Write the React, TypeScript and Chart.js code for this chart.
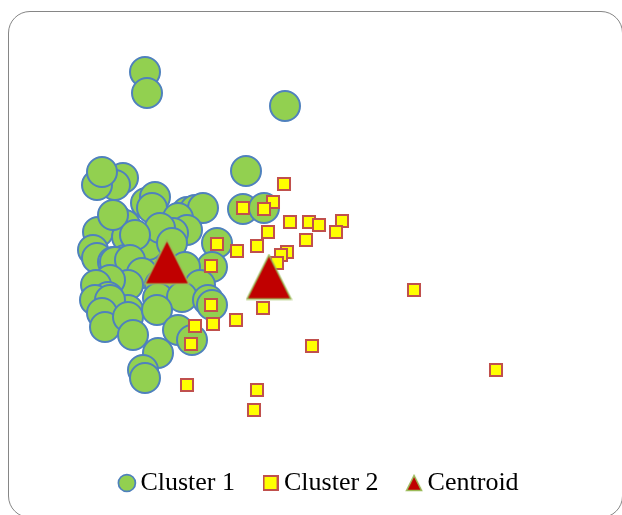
import { useEffect, useRef } from 'react';
import { Chart, registerables } from 'chart.js';

Chart.register(...registerables);

const seriesNames = ['Cluster 1', 'Cluster 2', 'Centroid'];

const cluster1X = [
  145, 147, 285, 246, 243, 264,
  123, 115, 97, 102,
  146, 155, 152,
  115, 125, 98, 127, 113,
  187, 195, 203, 178, 187, 173,
  217, 212,
  170, 93, 97, 125, 113, 143, 148, 160, 135,
  115, 130, 142, 172, 185, 160, 128, 200, 110, 96,
  108, 95, 128, 158, 182, 208,
  110, 102, 105, 128, 133, 157, 178, 192, 212, 158, 143, 145,
];
const cluster1Y = [
  72, 93, 106, 171, 209, 208,
  178, 185, 185, 172,
  203, 197, 208,
  218, 225, 232, 237, 215,
  212, 210, 208, 218, 230, 233,
  243, 267,
  250, 250, 258, 260, 262, 255, 245, 228, 235,
  262, 260, 273, 243, 267, 285, 285, 285, 280, 285,
  297, 300, 310, 298, 297, 300,
  300, 313, 327, 317, 335, 310, 330, 340, 305, 353, 370, 378,
];

const cluster2X = [
  284, 273, 264, 243, 290, 309, 319, 342, 336, 268,
  306, 257, 237, 217, 287, 281, 277, 211, 211, 263,
  236, 213, 195, 191, 312, 414, 496, 187, 257, 254,
];
const cluster2Y = [
  184, 202, 209, 208, 222, 222, 225, 221, 232, 232,
  240, 246, 251, 244, 252, 255, 263, 266, 305, 308,
  320, 324, 326, 344, 346, 290, 370, 385, 390, 410,
];

const centroidX = [167, 269];
const centroidY = [262, 277];

const toPoints = (xs: number[], ys: number[]) => xs.map((x, i) => ({ x, y: ys[i] }));

function makeTriangle(size: number, lw: number) {
  const c = document.createElement('canvas');
  c.width = size;
  c.height = size;
  const ctx = c.getContext('2d')!;
  const m = lw;
  ctx.beginPath();
  ctx.moveTo(size / 2, m);
  ctx.lineTo(size - m, size - m);
  ctx.lineTo(m, size - m);
  ctx.closePath();
  ctx.fillStyle = '#C00000';
  ctx.fill();
  ctx.lineWidth = lw;
  ctx.strokeStyle = '#9BBB59';
  ctx.lineJoin = 'miter';
  ctx.stroke();
  return c;
}

function makeSquare(size: number, lw: number) {
  const c = document.createElement('canvas');
  c.width = size;
  c.height = size;
  const ctx = c.getContext('2d')!;
  ctx.fillStyle = '#FFFF00';
  ctx.fillRect(lw / 2, lw / 2, size - lw, size - lw);
  ctx.lineWidth = lw;
  ctx.strokeStyle = '#C0504D';
  ctx.strokeRect(lw / 2, lw / 2, size - lw, size - lw);
  return c;
}

export default function App() {
  const ref = useRef<HTMLCanvasElement | null>(null);

  useEffect(() => {
    if (!ref.current) return;
    const bigTri = makeTriangle(47, 1.5);
    const smallTri = makeTriangle(18, 1.5);
    const smallSq = makeSquare(16, 2);

    const chart = new Chart(ref.current, {
      type: 'scatter',
      data: {
        datasets: [
          {
            label: seriesNames[0],
            data: toPoints(cluster1X, cluster1Y),
            backgroundColor: '#92D050',
            borderColor: '#4F81BD',
            borderWidth: 2,
            pointRadius: 15,
            pointStyle: 'circle',
            order: 3,
          },
          {
            label: seriesNames[1],
            data: toPoints(cluster2X, cluster2Y),
            backgroundColor: '#FFFF00',
            borderColor: '#C0504D',
            borderWidth: 2,
            pointRadius: 8.5,
            pointStyle: 'rect',
            order: 2,
          },
          {
            label: seriesNames[2],
            data: toPoints(centroidX, centroidY),
            backgroundColor: '#C00000',
            borderColor: '#9BBB59',
            borderWidth: 1.5,
            pointRadius: 23,
            pointStyle: bigTri as any,
            order: 1,
          },
        ],
      },
      options: {
        responsive: false,
        animation: false,
        events: [],
        layout: { autoPadding: false, padding: { left: 23, right: 0, top: 0, bottom: 9 } },
        scales: {
          x: { type: 'linear', min: 23, max: 622, display: false },
          y: { type: 'linear', min: 0, max: 435, reverse: true, display: false },
        },
        plugins: {
          tooltip: { enabled: false },
          legend: {
            position: 'bottom',
            labels: {
              usePointStyle: true,
              boxWidth: 1,
              boxHeight: 12,
              padding: 35,
              color: '#000000',
              font: { family: "'Liberation Serif', 'Times New Roman', serif", size: 26 },
              sort: (a: any, b: any) => a.datasetIndex - b.datasetIndex,
              generateLabels: (c: any) => {
                const items = Chart.defaults.plugins.legend.labels.generateLabels(c);
                return items.map((it: any) => {
                  if (it.datasetIndex === 2) return { ...it, pointStyle: smallTri };
                  if (it.datasetIndex === 1) return { ...it, pointStyle: smallSq };
                  return { ...it, lineWidth: 1.75 };
                });
              },
            },
          },
        },
      },
    });
    return () => chart.destroy();
  }, []);

  return (
    <div style={{ position: 'absolute', left: 0, top: 0, width: 622, height: 515, overflow: 'hidden', background: '#fff' }}>
      <div
        style={{
          position: 'absolute',
          left: 8,
          top: 11,
          width: 615,
          height: 507,
          boxSizing: 'border-box',
          border: '1.75px solid #868686',
          borderRadius: 22,
        }}
      />
      <canvas ref={ref} width={622} height={515} style={{ position: 'absolute', left: 0, top: 0, width: 622, height: 515 }} />
    </div>
  );
}
